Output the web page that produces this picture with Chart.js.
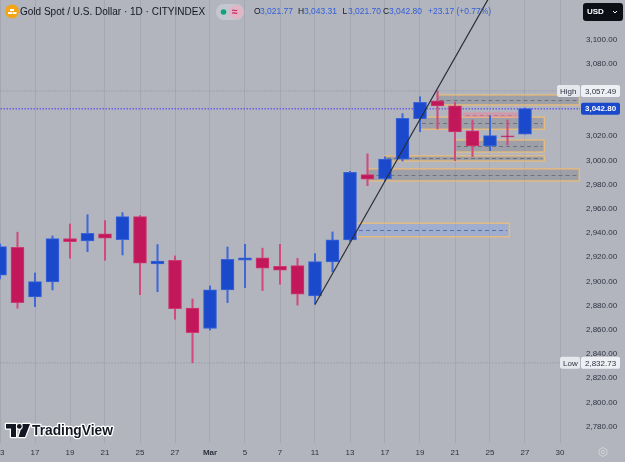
<!DOCTYPE html>
<html><head><meta charset="utf-8">
<script src="https://cdn.jsdelivr.net/npm/chart.js@4.4.1/dist/chart.umd.min.js"></script>
<style>html,body{margin:0;padding:0;background:#b2b5be;overflow:hidden}canvas{display:block}</style>
</head><body>
<canvas id="c" width="625" height="462"></canvas>
<script>
// ---- data ----
const dates = ['Feb 13','Feb 14','Feb 17','Feb 18','Feb 19','Feb 20','Feb 21','Feb 24','Feb 25','Feb 26','Feb 27','Feb 28',
  'Mar 3','Mar 4','Mar 5','Mar 6','Mar 7','Mar 10','Mar 11','Mar 12','Mar 13','Mar 14','Mar 17','Mar 18','Mar 19','Mar 20',
  'Mar 21','Mar 24','Mar 25','Mar 26','Mar 27'];
const opens  = [2905.1,2928.3,2887.2,2899.6,2935.5,2933.5,2939.3,2934.5,2953.6,2914.5,2917.5,2877.9,
  2861.1,2893.0,2917.5,2919.5,2912.5,2913.1,2888.0,2916.1,2934.3,2988.3,2985.0,3001.0,3034.5,3049.2,
  3045.1,3024.4,3012.0,3020.3,3021.77];
const highs  = [2931.0,2940.7,2907.0,2937.6,2947.5,2955.2,2950.3,2956.9,2954.5,2930.5,2921.1,2885.5,
  2896.3,2928.5,2930.7,2927.5,2930.7,2919.2,2923.0,2940.9,2991.0,3005.4,3003.0,3038.7,3052.7,3057.49,
  3048.1,3033.5,3037.0,3033.5,3043.31];
const lows   = [2902.0,2877.9,2879.2,2893.0,2919.2,2924.6,2917.5,2921.9,2889.1,2891.5,2868.8,2832.73,
  2859.9,2882.5,2894.9,2892.5,2897.7,2880.5,2881.2,2908.1,2933.0,2979.2,2983.0,2999.5,3023.8,3026.0,
  2999.9,3003.2,3008.1,3012.8,3021.70];
const closes = [2928.8,2882.5,2899.9,2935.4,2932.9,2939.8,2935.7,2953.6,2915.1,2916.8,2877.5,2857.7,
  2893.0,2918.3,2919.5,2910.9,2909.3,2889.5,2916.4,2934.3,2990.2,2984.5,3001.2,3034.9,3048.1,3045.1,
  3023.5,3012.0,3020.5,3019.5,3042.80];
const tickIdx = [0,2,4,6,8,10,12,14,16,18,20,22,24,26,28,30,32];
const tickLabels = ['13','17','19','21','25','27','Mar','5','7','11','13','17','19','21','25','27','30'];
const priceTicks = [2780,2800,2820,2840,2860,2880,2900,2920,2940,2960,2980,3000,3020,3040,3060,3080,3100,3120];
const highLevel = 3057.49;
const lowLevel = 2832.73;
const lastPrice = 3042.80;
const trendX = [18, 30];
const trendY = [2881, 3187];
// zones (bar index range, price range)
const zoneStart  = [25, 24, 26, 22, 21, 26.5, 20.4];
const zoneEnd    = [33.1, 31.1, 31.1, 31.1, 33.1, 29.6, 29.1];
const zoneTop    = [3054.1, 3035.7, 3016.9, 3003.7, 2993.0, 3039.3, 2948.1];
const zoneBottom = [3045.9, 3025.8, 3007.0, 2999.6, 2983.1, 3036.0, 2937.0];
const zoneKind   = ['gray','gray','gray','gray','gray','pink','blue'];
const titleText = 'Gold Spot / U.S. Dollar · 1D · CITYINDEX';
const legendO = '3,021.77', legendH = '3,043.31', legendL = '3,021.70', legendC = '3,042.80', legendChg = '+23.17 (+0.77%)';

// ---- styles ----
const UP = '#1a49cc', DOWN = '#c2185b';
const UP_B = '#3a64d8', DOWN_B = '#cc3a70';
const UP_W = '#4068d6', DOWN_W = '#d04a7e';
const FONT = "'Liberation Sans', Arial, sans-serif";
const TXT = '#2e3240';

function fmt(v){ return v.toLocaleString('en-US',{minimumFractionDigits:2,maximumFractionDigits:2}); }
const isUp = i => closes[i] >= opens[i];

const bodies = dates.map((d,i)=>({x:i, y:[opens[i], closes[i]]}));
const wicks = dates.map((d,i)=>({x:i, y:[lows[i], highs[i]]}));

function fitSize(ctx, s, w, weight){
  ctx.font = `${weight} 10px ${FONT}`;
  return 10 * w / ctx.measureText(s).width;
}
function draw(ctx, s, x, y, size, weight, color){
  ctx.font = `${weight} ${size.toFixed(2)}px ${FONT}`;
  ctx.fillStyle = color; ctx.textAlign='left'; ctx.textBaseline='middle';
  ctx.fillText(s, x, y);
}

const zonesPlugin = {
  id:'zones',
  beforeDatasetsDraw(chart){
    const {ctx, scales:{x, y}} = chart;
    ctx.save();
    for(let k=0;k<zoneStart.length;k++){
      const x1 = x.getPixelForValue(zoneStart[k]), x2 = x.getPixelForValue(zoneEnd[k]);
      const y1 = y.getPixelForValue(zoneTop[k]), y2 = y.getPixelForValue(zoneBottom[k]);
      let fill='rgba(110,113,124,0.3)', border='rgba(246,190,110,0.85)', mid='#6f727c';
      if(zoneKind[k]==='pink'){ fill='rgba(236,120,150,0.35)'; border='rgba(236,140,160,0.5)'; mid='rgba(200,90,120,0.6)'; }
      if(zoneKind[k]==='blue'){ fill='rgba(130,160,235,0.38)'; border='rgba(246,190,110,0.85)'; mid='#5b72ad'; }
      ctx.fillStyle = fill; ctx.fillRect(x1, y1, x2-x1, y2-y1);
      ctx.strokeStyle = border; ctx.lineWidth = 1.3; ctx.setLineDash([]);
      ctx.strokeRect(x1, y1, x2-x1, y2-y1);
      ctx.strokeStyle = mid; ctx.lineWidth = 1; ctx.setLineDash([4,3]);
      const ym = Math.round((y1+y2)/2)+0.5;
      ctx.beginPath(); ctx.moveTo(x1+2, ym); ctx.lineTo(x2-2, ym); ctx.stroke();
    }
    ctx.restore();
  }
};

const overlayPlugin = {
  id:'overlay',
  afterDraw(chart){
    const {ctx, scales:{y}} = chart;
    ctx.save();
    function box(x, yc, w, h, fill){ ctx.fillStyle=fill; ctx.beginPath(); ctx.roundRect(x, yc-h/2, w, h, 2); ctx.fill(); }
    function label(s, x, yc, color, weight){ ctx.font=`${weight||'normal'} 8px ${FONT}`; ctx.fillStyle=color; ctx.textAlign='left'; ctx.textBaseline='middle'; ctx.fillText(s, x, yc+0.5); }
    const yh = y.getPixelForValue(highLevel);
    box(557, yh, 23, 12, '#e6e8ee'); label('High', 560, yh, TXT);
    box(581, yh, 39, 12, '#eef0f4'); label(fmt(highLevel), 585, yh, TXT);
    const yc = y.getPixelForValue(lastPrice);
    box(581, yc, 39, 12, '#1a49cc'); label(fmt(lastPrice), 585, yc, '#ffffff', 'bold');
    const yl = y.getPixelForValue(lowLevel);
    box(560, yl, 20, 12, '#e6e8ee'); label('Low', 563, yl, TXT);
    box(581, yl, 39, 12, '#eef0f4'); label(fmt(lowLevel), 585, yl, TXT);

    // USD box
    ctx.fillStyle='#0d0f16'; ctx.beginPath(); ctx.roundRect(583, 3, 40, 18, 3); ctx.fill();
    label('USD', 587, 11.5, '#ffffff', 'bold');
    ctx.strokeStyle='#ffffff'; ctx.lineWidth=1; ctx.beginPath(); ctx.moveTo(613,11); ctx.lineTo(615,13); ctx.lineTo(617,11); ctx.stroke();

    // header icon
    ctx.fillStyle='#f2a516'; ctx.beginPath(); ctx.arc(12, 11.5, 7, 0, Math.PI*2); ctx.fill();
    ctx.fillStyle='#ffffff';
    ctx.fillRect(10, 9, 4, 2); ctx.fillRect(8, 12, 4, 2); ctx.fillRect(12.5, 12, 4, 2);
    // title
    const DK = '#131722', BL = '#2f5fd8';
    const ts = fitSize(ctx, titleText, 185, 'normal');
    draw(ctx, titleText, 20, 12, ts, 'normal', DK);
    // badge
    ctx.fillStyle='#c4c7cf'; ctx.beginPath(); ctx.roundRect(216, 4, 28, 16, 8); ctx.fill();
    ctx.fillStyle='#e2b4c4'; ctx.beginPath(); ctx.roundRect(229, 5, 14, 14, 7); ctx.fill();
    ctx.fillStyle='#12a37a'; ctx.beginPath(); ctx.arc(223.5, 12, 2.8, 0, Math.PI*2); ctx.fill();
    draw(ctx, '≈', 232, 12, 10, 'bold', '#c2185b');
    // OHLC (uniform size)
    const os = fitSize(ctx, legendO, 33, 'normal');
    draw(ctx, 'O', 254, 12, os, 'normal', DK); draw(ctx, legendO, 260, 12, os, 'normal', BL);
    draw(ctx, 'H', 298, 12, os, 'normal', DK); draw(ctx, legendH, 304, 12, os, 'normal', BL);
    draw(ctx, 'L', 342.5, 12, os, 'normal', DK); draw(ctx, legendL, 348, 12, os, 'normal', BL);
    draw(ctx, 'C', 383, 12, os, 'normal', DK); draw(ctx, legendC, 389, 12, os, 'normal', BL);
    draw(ctx, legendChg, 428, 12, os, 'normal', BL);

    // TradingView logo
    ctx.lineJoin='round';
    const logo = () => {
      ctx.beginPath();
      ctx.moveTo(6,424); ctx.lineTo(16,424); ctx.lineTo(16,437); ctx.lineTo(11,437); ctx.lineTo(11,428.5); ctx.lineTo(6,428.5); ctx.closePath();
      ctx.moveTo(22.5,424); ctx.lineTo(30,424); ctx.lineTo(25,437); ctx.lineTo(18.5,437); ctx.closePath();
    };
    ctx.strokeStyle='#ffffff'; ctx.lineWidth=2.5; logo(); ctx.stroke();
    ctx.fillStyle='#131722'; logo(); ctx.fill();
    ctx.beginPath(); ctx.arc(19.3, 426.4, 2.4, 0, Math.PI*2); ctx.strokeStyle='#ffffff'; ctx.lineWidth=2; ctx.stroke(); ctx.fillStyle='#131722'; ctx.fill();
    const ls = fitSize(ctx, 'TradingView', 81, 'bold');
    ctx.font = `bold ${ls.toFixed(2)}px ${FONT}`;
    ctx.textAlign='left'; ctx.textBaseline='middle';
    ctx.strokeStyle='#ffffff'; ctx.lineWidth=2.5; ctx.strokeText('TradingView', 32, 431);
    ctx.fillStyle='#131722'; ctx.fillText('TradingView', 32, 431);

    // gear
    ctx.strokeStyle='#d0d2d8'; ctx.lineWidth=1;
    ctx.beginPath();
    for(let k=0;k<6;k++){ const a=Math.PI/6+k*Math.PI/3; const px=603+4.5*Math.cos(a), py=452+4.5*Math.sin(a); k?ctx.lineTo(px,py):ctx.moveTo(px,py);} ctx.closePath(); ctx.stroke();
    ctx.beginPath(); ctx.arc(603,452,1.6,0,Math.PI*2); ctx.stroke();
    ctx.restore();
  }
};

new Chart(document.getElementById('c'), {
  type:'bar',
  data:{
    datasets:[
      { type:'line', data:[{x:trendX[0],y:trendY[0]},{x:trendX[1],y:trendY[1]}], borderColor:'#2a2d36', borderWidth:1.2, pointRadius:0, order:-1 },
      { type:'bar', data:bodies, grouped:false, barThickness:13, borderSkipped:false, borderWidth:1,
        backgroundColor: c => isUp(c.dataIndex)?UP:DOWN, borderColor: c => isUp(c.dataIndex)?UP_B:DOWN_B, order:1 },
      { type:'bar', data:wicks, grouped:false, barThickness:1.4, borderWidth:0,
        backgroundColor: c => isUp(c.dataIndex)?UP_W:DOWN_W, order:2 },
      { type:'line', data:[{x:-1,y:lastPrice},{x:40,y:lastPrice}], borderColor:'#6d5fe0', borderWidth:1.5, borderDash:[1.5,1.5], pointRadius:0, order:4 },
      { type:'line', data:[{x:-1,y:highLevel},{x:40,y:highLevel}], borderColor:'#8e919a', borderWidth:1, borderDash:[1,2], pointRadius:0, order:5 },
      { type:'line', data:[{x:-1,y:lowLevel},{x:40,y:lowLevel}], borderColor:'#8e919a', borderWidth:1, borderDash:[1,2], pointRadius:0, order:5 }
    ]
  },
  options:{
    responsive:false, devicePixelRatio:1, animation:false,
    layout:{padding:0},
    plugins:{legend:{display:false}, tooltip:{enabled:false}},
    scales:{
      x:{ type:'linear', min:0, max:580/17.5, offset:false,
        afterBuildTicks: s => { s.ticks = tickIdx.map(v=>({value:v})); },
        afterFit: s => { s.paddingLeft=0; s.paddingRight=0; s.height=19; },
        ticks:{ autoSkip:false, maxRotation:0, padding:5, color:TXT,
          callback: v => { const k=tickIdx.indexOf(v); return k>=0?tickLabels[k]:''; },
          font: c => ({family:FONT, size:8, weight: (c.tick && c.tick.label==='Mar')?'bold':'normal'}) },
        grid:{ display:true, offset:false, color:'#a5a8b1', lineWidth:1, drawTicks:false },
        border:{ display:false }
      },
      y:{ type:'linear', position:'right', min:2766.5, max:3132.6,
        afterBuildTicks: s => { s.ticks = priceTicks.map(v=>({value:v})); },
        afterFit: s => { s.width=45; s.paddingTop=0; s.paddingBottom=0; },
        ticks:{ padding:6, color:TXT, font:{family:FONT, size:8}, callback: v => fmt(v) },
        grid:{ display:false, drawTicks:false },
        border:{ display:false }
      }
    }
  },
  plugins:[zonesPlugin, overlayPlugin]
});
</script>
</body></html>
